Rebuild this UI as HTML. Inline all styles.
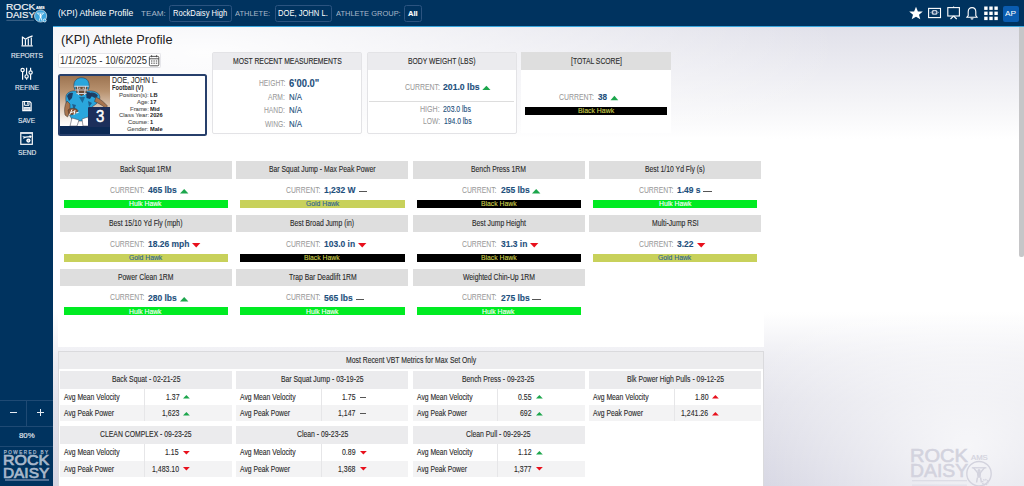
<!DOCTYPE html>
<html><head><meta charset="utf-8"><title>(KPI) Athlete Profile</title>
<style>
html,body{margin:0;padding:0;width:1024px;height:486px;overflow:hidden;background:#fff;}
body{position:relative;font-family:"Liberation Sans",sans-serif;}
span{position:absolute;white-space:pre;line-height:normal;transform-origin:0 0;display:block;-webkit-text-stroke-width:0.12px;}
div{box-sizing:border-box;}
</style></head><body>
<div style="position:absolute;left:53px;top:27px;width:971px;height:459px;background:radial-gradient(ellipse 640px 150px at 150px 25px,rgba(255,255,255,0.92),rgba(255,255,255,0)),radial-gradient(ellipse 230px 190px at 915px 420px,rgba(255,255,255,0.75),rgba(255,255,255,0)),linear-gradient(to bottom,#e1e1ea 0px,#ebebf1 40px,#f7f7f9 85px,#ffffff 112px,#ffffff 285px,#eeeef3 330px,#e3e3eb 375px,#d5d5e2 459px);"></div>
<div style="position:absolute;left:57.50px;top:137.00px;width:706.00px;height:210.00px;background:#fff;"></div>
<div style="position:absolute;left:57.50px;top:351.00px;width:706.50px;height:140.00px;background:#fff;border:1px solid #dadadd;"></div>
<div style="position:absolute;left:58.50px;top:352.00px;width:704.50px;height:16.50px;background:#ececee;"></div>
<div style="position:absolute;left:0.00px;top:0.00px;width:1024.00px;height:26.00px;background:#00335f;"></div>
<div style="position:absolute;left:53.00px;top:26.00px;width:971.00px;height:1.10px;background:#3aa6dd;"></div>
<div style="position:absolute;left:0.00px;top:25.00px;width:53.00px;height:461.00px;background:#00335f;"></div>
<div style="position:absolute;left:1019.00px;top:27.00px;width:4.50px;height:230.00px;background:#c6c6c8;border-radius:0 0 2px 2px;"></div>
<span style="left:58.17px;top:8.20px;font-size:9.3px;font-weight:400;color:#ffffff;transform:scaleX(0.9269);-webkit-text-stroke-width:0;">(KPI) Athlete Profile</span>
<span style="left:141.32px;top:9.61px;font-size:7.0px;font-weight:400;color:#a9b8c9;transform:scaleX(1.1605);-webkit-text-stroke-width:0;">TEAM:</span>
<div style="position:absolute;left:169.40px;top:4.80px;width:62.20px;height:17.10px;border:1px solid #2c5480;border-radius:2.5px;"></div>
<span style="left:173.37px;top:9.02px;font-size:8.2px;font-weight:400;color:#ffffff;transform:scaleX(0.9313);-webkit-text-stroke-width:0;">RockDaisy High</span>
<span style="left:235.49px;top:9.61px;font-size:7.0px;font-weight:400;color:#a9b8c9;transform:scaleX(1.0688);-webkit-text-stroke-width:0;">ATHLETE:</span>
<div style="position:absolute;left:274.50px;top:4.80px;width:57.30px;height:17.10px;border:1px solid #2c5480;border-radius:2.5px;"></div>
<span style="left:278.18px;top:9.02px;font-size:8.2px;font-weight:400;color:#ffffff;transform:scaleX(0.9266);-webkit-text-stroke-width:0;">DOE, JOHN L.</span>
<span style="left:335.99px;top:9.61px;font-size:7.0px;font-weight:400;color:#a9b8c9;transform:scaleX(1.0686);-webkit-text-stroke-width:0;">ATHLETE GROUP:</span>
<div style="position:absolute;left:404.20px;top:4.60px;width:17.70px;height:17.20px;border:1px solid #2c5480;border-radius:2.5px;"></div>
<span style="left:408.11px;top:8.81px;font-size:7.6px;font-weight:700;color:#ffffff;transform:scaleX(0.9905);">All</span>
<div style="position:absolute;left:1002.70px;top:5.80px;width:16.00px;height:16.00px;background:#0a5cb0;border-radius:2px;"></div>
<span style="left:1005.18px;top:9.31px;font-size:7.6px;font-weight:400;color:#ffffff;transform:scaleX(1.0902);-webkit-text-stroke-width:0;">AP</span>
<svg style="position:absolute;left:0;top:0" width="1024" height="27">
<g fill="#fff">
<polygon points="916,6.7 917.9,11.4 922.8,11.6 919.0,14.7 920.3,19.3 916,16.7 911.7,19.3 913.0,14.7 909.2,11.6 914.1,11.4"/>
</g>
<g fill="none" stroke="#fff" stroke-width="1.1">
<rect x="928.6" y="8.4" width="11.9" height="9.2"/>
<rect x="947.8" y="7.6" width="11.6" height="8.4"/>
<line x1="953.6" y1="6.6" x2="953.6" y2="7.6"/>
<line x1="953.6" y1="16" x2="950.5" y2="19"/>
<line x1="953.6" y1="16" x2="956.7" y2="19"/>
<path d="M967,17.2 L968.2,15.6 L968.2,11.8 C968.2,9.2 969.8,7.6 972,7.6 C974.2,7.6 975.8,9.2 975.8,11.8 L975.8,15.6 L977,17.2 Z"/>
<path d="M970.8,18.3 Q972,19.8 973.2,18.3"/>
</g>
<rect x="931.8" y="9.9" width="5.6" height="4.9" rx="1.6" fill="#c9d3df"/>
<circle cx="934.6" cy="12.3" r="1.5" fill="#31507a"/>
<path d="M930.3,12.4 L931.4,11.6 L931.4,13.2 Z M938.9,12.4 L937.8,11.6 L937.8,13.2 Z" fill="#c9d3df"/>
<g fill="#fff">
<rect x="984.2" y="6.5" width="3.4" height="3.4"/><rect x="989.3" y="6.5" width="3.4" height="3.4"/><rect x="994.4" y="6.5" width="3.4" height="3.4"/>
<rect x="984.2" y="11.6" width="3.4" height="3.4"/><rect x="989.3" y="11.6" width="3.4" height="3.4"/><rect x="994.4" y="11.6" width="3.4" height="3.4"/>
<rect x="984.2" y="16.7" width="3.4" height="3.4"/><rect x="989.3" y="16.7" width="3.4" height="3.4"/><rect x="994.4" y="16.7" width="3.4" height="3.4"/>
</g>
</svg>
<span style="left:5.57px;top:1.27px;font-size:9.5px;font-weight:400;color:#f2f4f7;transform:scaleX(1.0692);-webkit-text-stroke:0.2px #f2f4f7;">ROCK</span>
<span style="left:5.61px;top:8.97px;font-size:9.5px;font-weight:400;color:#f2f4f7;transform:scaleX(1.0101);-webkit-text-stroke:0.2px #f2f4f7;">DAISY</span>
<span style="left:36.30px;top:5.77px;font-size:3.4px;font-weight:700;color:#ffffff;transform:scaleX(1.1311);">AMS</span>
<svg style="position:absolute;left:0;top:0" width="53" height="27">
<circle cx="40.6" cy="16" r="6.1" fill="#3ea6df" stroke="#fff" stroke-width="0.6"/>
<path d="M36.9,13.1 L44.3,13.1" stroke="#e9f5fc" stroke-width="0.7" fill="none"/>
<path d="M37.7,13.2 L39.9,15.6 L41.3,15.6 L43.5,13.2" stroke="#ffffff" stroke-width="0.8" fill="none"/>
<circle cx="40.6" cy="14.6" r="0.8" fill="#fff"/>
<path d="M39.6,15.5 L41.6,15.5 L41.3,18.3 L39.9,18.3 Z" fill="#fff"/>
<path d="M39.9,18.2 L39.4,20.6 M41.3,18.2 L41.8,20.6" stroke="#fff" stroke-width="0.8" fill="none"/>
<circle cx="44.7" cy="20.5" r="1.5" fill="#3ea6df" stroke="#fff" stroke-width="0.7"/>
<rect x="6.4" y="19.9" width="27.5" height="0.6" fill="#6f89a8"/>
</svg>
<span style="left:10.66px;top:50.92px;font-size:7.9px;font-weight:400;color:#e8edf3;transform:scaleX(0.8370);">REPORTS</span>
<span style="left:14.56px;top:83.22px;font-size:7.9px;font-weight:400;color:#e8edf3;transform:scaleX(0.8327);">REFINE</span>
<span style="left:18.10px;top:116.22px;font-size:7.9px;font-weight:400;color:#e8edf3;transform:scaleX(0.8387);">SAVE</span>
<span style="left:17.70px;top:148.42px;font-size:7.9px;font-weight:400;color:#e8edf3;transform:scaleX(0.8344);">SEND</span>
<svg style="position:absolute;left:0;top:0" width="53" height="160">
<!-- reports -->
<g fill="none" stroke="#ffffff" stroke-width="1.15">
<path d="M21.4,45.9 L32.8,45.9"/>
<path d="M22.4,45.5 L22.4,36.6 M22.4,37 L25.5,39.2 L28.2,37.6 L32.6,35.9"/>
<path d="M25.4,45.5 L25.4,40 M28.3,45.5 L28.3,38.5 M31.3,45.5 L31.3,37.5"/>
</g>
<!-- refine -->
<g fill="none" stroke="#ffffff" stroke-width="1.2">
<path d="M22.6,71.8 L22.6,79.7 M26.6,67.8 L26.6,74.6 M26.6,78.2 L26.6,79.7 M30.6,67.8 L30.6,70.7 M30.6,74.3 L30.6,79.7"/>
<circle cx="22.6" cy="70.1" r="1.65"/><circle cx="26.6" cy="76.4" r="1.65"/><circle cx="30.6" cy="72.5" r="1.65"/>
</g>
<!-- save -->
<path d="M22.8,101.5 L29.8,101.5 L31.1,102.9 L31.1,110.6 L22.8,110.6 Z" fill="none" stroke="#ffffff" stroke-width="1.2"/>
<path d="M24.6,101.6 L24.6,105.3 L29,105.3 L29,101.6" fill="none" stroke="#ffffff" stroke-width="1"/>
<rect x="27.2" y="102.2" width="1" height="2.2" fill="#ffffff"/>
<rect x="23.4" y="107" width="7.1" height="3.3" fill="#e9eef4"/>
<rect x="24.4" y="108.2" width="5" height="0.45" fill="#9fb0c4"/>
<rect x="24.4" y="109.1" width="5" height="0.45" fill="#9fb0c4"/>
<!-- send -->
<rect x="20.8" y="132.7" width="11.5" height="11.6" fill="none" stroke="#ffffff" stroke-width="1.2"/>
<rect x="20.8" y="132.4" width="11.5" height="1.6" fill="#cfd9e4"/>
<path d="M23.2,138.2 C24.5,137.5 26,136.8 28,136.9 L30.5,136.6" fill="none" stroke="#ffffff" stroke-width="1.3"/>
<path d="M29.6,135 L31.9,136.6 L29.8,138.4 Z" fill="#ffffff"/>
<rect x="22.6" y="136" width="2.2" height="0.8" fill="#cfd9e4"/>
<circle cx="28.4" cy="140.6" r="2.1" fill="#ffffff"/>
<circle cx="28.4" cy="140.6" r="0.8" fill="#9fb0c4"/>
</svg>
<div style="position:absolute;left:0.00px;top:399.50px;width:53.00px;height:1.00px;background:#1f4a74;"></div>
<div style="position:absolute;left:26.00px;top:400.00px;width:1.00px;height:25.50px;background:#1f4a74;"></div>
<div style="position:absolute;left:0.00px;top:425.50px;width:53.00px;height:1.00px;background:#1f4a74;"></div>
<div style="position:absolute;left:0.00px;top:445.50px;width:53.00px;height:1.00px;background:#1f4a74;"></div>
<div style="position:absolute;left:9.90px;top:412.20px;width:6.90px;height:1.30px;background:#e8edf3;"></div>
<div style="position:absolute;left:36.50px;top:412.20px;width:7.30px;height:1.30px;background:#e8edf3;"></div>
<div style="position:absolute;left:39.50px;top:409.00px;width:1.30px;height:7.30px;background:#e8edf3;"></div>
<span style="left:18.66px;top:431.48px;font-size:7.2px;font-weight:400;color:#e8edf3;transform:scaleX(1.0837);">80%</span>
<span style="left:3.82px;top:449.78px;font-size:4.6px;font-weight:400;color:#9fb2c8;transform:scaleX(1.0000);letter-spacing:1.45px;-webkit-text-stroke-width:0.25px;">POWERED BY</span>
<span style="left:2.89px;top:452.30px;font-size:14.4px;font-weight:400;color:#a8b8cb;transform:scaleX(1.1078);-webkit-text-stroke-width:0.7px;">ROCK</span>
<span style="left:2.94px;top:464.60px;font-size:14.4px;font-weight:400;color:#a8b8cb;transform:scaleX(1.0691);-webkit-text-stroke-width:0.7px;">DAISY</span>
<div style="position:absolute;left:4.50px;top:479.30px;width:44.00px;height:1.40px;background:#4f6e93;"></div>
<span style="left:61.21px;top:32.00px;font-size:12.8px;font-weight:400;color:#222222;transform:scaleX(0.9988);-webkit-text-stroke-width:0;">(KPI) Athlete Profile</span>
<div style="position:absolute;left:57.80px;top:52.80px;width:103.45px;height:15.60px;background:#fff;border:1px solid #e6e6ea;border-bottom-color:#dcdce0;border-radius:2px;"></div>
<span style="left:59.88px;top:53.88px;font-size:11.0px;font-weight:400;color:#2a2a2a;transform:scaleX(0.8580);-webkit-text-stroke-width:0;">1/1/2025 - 10/6/2025</span>
<svg style="position:absolute;left:148px;top:54px" width="13" height="14">
<g fill="none" stroke="#444" stroke-width="0.9">
<rect x="1.4" y="2.4" width="9.4" height="9.4" rx="1"/>
<line x1="1.4" y1="4.8" x2="10.8" y2="4.8"/>
<line x1="3.6" y1="1.2" x2="3.6" y2="3.2"/><line x1="8.6" y1="1.2" x2="8.6" y2="3.2"/>
</g>
<g fill="#666"><rect x="3" y="6.4" width="1.4" height="1.2"/><rect x="5.4" y="6.4" width="1.4" height="1.2"/><rect x="7.8" y="6.4" width="1.4" height="1.2"/>
<rect x="3" y="8.6" width="1.4" height="1.2"/><rect x="5.4" y="8.6" width="1.4" height="1.2"/><rect x="7.8" y="8.6" width="1.4" height="1.2"/></g>
</svg>
<div style="position:absolute;left:57.80px;top:73.70px;width:149.20px;height:62.10px;background:#fff;border:2px solid #273f6b;border-radius:2.5px;"></div>
<div style="position:absolute;left:59.50px;top:75.50px;width:50.70px;height:51.00px;background:linear-gradient(to bottom,#9d7451 0%,#b8926f 30%,#dcc7b4 60%,#f7f2ee 85%,#ffffff 100%);"></div>
<div style="position:absolute;left:59.50px;top:126.20px;width:50.70px;height:8.00px;background:#0c2a55;"></div>
<svg style="position:absolute;left:58px;top:74px" width="53" height="53">
<!-- jersey body -->
<path d="M8,22 C9,18 14,16.5 18,17 L30,17 C35,16.5 40,18 41.5,21.5 C42.5,24.5 41,28 38,30 L34,33 L31,43 L26,47 L15,47 L12,42 L10,35 C8,31 7.5,26 8,22 Z" fill="#2aa6dc" stroke="#1b2f4f" stroke-width="0.5"/>
<!-- dark shading -->
<path d="M9,22 C10,19 13,18 15,19 L14,24 L11,27 Z" fill="#1c3f66"/>
<path d="M33,18.5 C36,18 39,19.5 40,22 L37,24 L33,22 Z" fill="#1c3f66"/>
<path d="M28,18 C31,17.5 34,18.5 34.5,21 L32,25 L28.5,24 Z" fill="#1d3a60"/>
<path d="M21,23 L27,23 L24.5,29 Z" fill="#1c6c9c"/>
<path d="M14,30 L18,31 L16,36 Z M30,27 L34,29 L31,33 Z" fill="#1f5e8c"/>
<!-- right arm skin -->
<path d="M38,23 C42,25 46,28 49.5,32 L47.5,34 C44,31 40,29 36.5,27.5 Z" fill="#a7744f" stroke="#2a2a2a" stroke-width="0.45"/>
<!-- left arm skin -->
<path d="M9,27 C6.5,31 6,36 7,41 L9.5,43 L12,38 L12,30 Z" fill="#a7744f" stroke="#2a2a2a" stroke-width="0.45"/>
<!-- football -->
<path d="M10,36 C13,33.5 18,33.5 20,36.5 C19,40 14,41.5 11,40.5 Z" fill="#8b5232" stroke="#2a2a2a" stroke-width="0.45"/>
<!-- glove / logo -->
<path d="M11.5,41 L14,35.5 M13,38.5 L16.5,37.5 M17,36 L16,41 M17.5,39 L20.5,38.5" stroke="#ffffff" stroke-width="1" fill="none"/>
<!-- pants -->
<path d="M14,44 L21,46 L19,52 L12,52 Z M24,45 L30,43 L32,52 L25,52 Z" fill="#ffffff" stroke="#3a3a4a" stroke-width="0.5"/>
<!-- helmet -->
<path d="M16,13 C15,6 20,3.5 24,3.8 C29,4 32,7.5 31,14 L30,16 L17,16 Z" fill="#2aa6dc" stroke="#1b2f4f" stroke-width="0.5"/>
<!-- face -->
<path d="M17.5,12.5 L29.5,12.5 L28.5,19 L23.5,22 L18.5,19 Z" fill="#6d4a33"/>
<!-- face mask -->
<path d="M16.2,12.2 L30.8,12.2 M17,16 L30,16 M18.5,19.5 L28.5,19.5 M19.5,12.2 L20.5,21 M27.5,12.2 L26.5,21" stroke="#d4d4da" stroke-width="1.1" fill="none"/>
<circle cx="21.8" cy="14.2" r="0.6" fill="#fff"/><circle cx="25.2" cy="14.2" r="0.6" fill="#fff"/>
</svg>
<div style="position:absolute;left:87.80px;top:106.50px;width:22.40px;height:20.00px;background:#1c2f5b;border-radius:1px 0 0 0;"></div>
<span style="left:95.53px;top:107.27px;font-size:16.2px;font-weight:400;color:#ffffff;transform:scaleX(0.9242);-webkit-text-stroke:0.45px #fff;">3</span>
<span style="left:111.73px;top:75.46px;font-size:8.3px;font-weight:400;color:#2a2a2a;transform:scaleX(0.8399);-webkit-text-stroke-width:0.1px;">DOE, JOHN L.</span>
<span style="left:111.92px;top:84.20px;font-size:6.4px;font-weight:700;color:#2a2a2a;transform:scaleX(0.8912);-webkit-text-stroke-width:0;">Football (V)</span>
<span style="left:118.97px;top:91.13px;font-size:6.2px;font-weight:400;color:#555555;transform:scaleX(0.9600);-webkit-text-stroke-width:0.1px;">Position(s):</span>
<span style="left:149.72px;top:91.13px;font-size:6.2px;font-weight:700;color:#222222;transform:scaleX(0.9150);-webkit-text-stroke-width:0;">LB</span>
<span style="left:136.50px;top:98.13px;font-size:6.2px;font-weight:400;color:#555555;transform:scaleX(0.9600);-webkit-text-stroke-width:0.1px;">Age:</span>
<span style="left:149.74px;top:98.13px;font-size:6.2px;font-weight:700;color:#222222;transform:scaleX(0.9150);-webkit-text-stroke-width:0;">17</span>
<span style="left:129.89px;top:104.73px;font-size:6.2px;font-weight:400;color:#555555;transform:scaleX(0.9600);-webkit-text-stroke-width:0.1px;">Frame:</span>
<span style="left:149.72px;top:104.73px;font-size:6.2px;font-weight:700;color:#222222;transform:scaleX(0.9150);-webkit-text-stroke-width:0;">Mid</span>
<span style="left:118.63px;top:111.43px;font-size:6.2px;font-weight:400;color:#555555;transform:scaleX(0.9600);-webkit-text-stroke-width:0.1px;">Class Year:</span>
<span style="left:149.90px;top:111.43px;font-size:6.2px;font-weight:700;color:#222222;transform:scaleX(0.9150);-webkit-text-stroke-width:0;">2026</span>
<span style="left:127.90px;top:118.13px;font-size:6.2px;font-weight:400;color:#555555;transform:scaleX(0.9600);-webkit-text-stroke-width:0.1px;">Course:</span>
<span style="left:149.74px;top:118.13px;font-size:6.2px;font-weight:700;color:#222222;transform:scaleX(0.9150);-webkit-text-stroke-width:0;">1</span>
<span style="left:127.24px;top:125.13px;font-size:6.2px;font-weight:400;color:#555555;transform:scaleX(0.9600);-webkit-text-stroke-width:0.1px;">Gender:</span>
<span style="left:149.72px;top:125.13px;font-size:6.2px;font-weight:700;color:#222222;transform:scaleX(0.9150);-webkit-text-stroke-width:0;">Male</span>
<div style="position:absolute;left:212.00px;top:52.00px;width:150.00px;height:82.00px;background:#fff;border:1px solid #e3e3e6;border-radius:2px;"></div>
<div style="position:absolute;left:213.00px;top:53.00px;width:148.00px;height:17.00px;background:#ebebee;"></div>
<span style="left:232.51px;top:55.93px;font-size:8.8px;font-weight:400;color:#2a2a2a;transform:scaleX(0.7740);">MOST RECENT MEASUREMENTS</span>
<span style="left:258.70px;top:78.19px;font-size:8.4px;font-weight:400;color:#999999;transform:scaleX(0.8000);-webkit-text-stroke-width:0.05px;">HEIGHT:</span>
<span style="left:289.46px;top:77.05px;font-size:11.2px;font-weight:700;color:#1d4f7c;transform:scaleX(0.8407);">6'00.0"</span>
<span style="left:268.41px;top:92.49px;font-size:8.4px;font-weight:400;color:#999999;transform:scaleX(0.8000);-webkit-text-stroke-width:0.05px;">ARM:</span>
<span style="left:289.06px;top:92.46px;font-size:8.3px;font-weight:400;color:#1d4f7c;transform:scaleX(0.9399);">N/A</span>
<span style="left:264.30px;top:105.49px;font-size:8.4px;font-weight:400;color:#999999;transform:scaleX(0.8000);-webkit-text-stroke-width:0.05px;">HAND:</span>
<span style="left:289.06px;top:105.46px;font-size:8.3px;font-weight:400;color:#1d4f7c;transform:scaleX(0.9399);">N/A</span>
<span style="left:265.06px;top:118.59px;font-size:8.4px;font-weight:400;color:#999999;transform:scaleX(0.8000);-webkit-text-stroke-width:0.05px;">WING:</span>
<span style="left:289.06px;top:118.56px;font-size:8.3px;font-weight:400;color:#1d4f7c;transform:scaleX(0.9399);">N/A</span>
<div style="position:absolute;left:366.50px;top:52.00px;width:150.50px;height:82.00px;background:#fff;border:1px solid #e3e3e6;border-radius:2px;"></div>
<div style="position:absolute;left:367.50px;top:53.00px;width:148.50px;height:17.00px;background:#ebebee;"></div>
<span style="left:407.93px;top:55.93px;font-size:8.8px;font-weight:400;color:#2a2a2a;transform:scaleX(0.7740);">BODY WEIGHT (LBS)</span>
<span style="left:404.75px;top:81.98px;font-size:8.66px;font-weight:400;color:#999999;transform:scaleX(0.7990);-webkit-text-stroke-width:0.05px;">CURRENT:</span>
<span style="left:443.40px;top:81.20px;font-size:9.6px;font-weight:700;color:#1d4f7c;transform:scaleX(0.9037);">201.0 lbs</span>
<svg style="position:absolute;left:482px;top:85px" width="9" height="6"><polygon points="0.3,5.1 4.4,0.7 8.5,5.1" fill="#1ca64c"/></svg>
<div style="position:absolute;left:369.00px;top:100.70px;width:145.00px;height:1.00px;background:#dddddd;"></div>
<span style="left:420.02px;top:103.89px;font-size:8.4px;font-weight:400;color:#999999;transform:scaleX(0.8456);-webkit-text-stroke-width:0.05px;">HIGH:</span>
<span style="left:443.35px;top:104.82px;font-size:8.2px;font-weight:400;color:#1d4f7c;transform:scaleX(0.8381);">203.0 lbs</span>
<span style="left:422.66px;top:115.79px;font-size:8.4px;font-weight:400;color:#999999;transform:scaleX(0.8000);-webkit-text-stroke-width:0.05px;">LOW:</span>
<span style="left:443.68px;top:116.72px;font-size:8.2px;font-weight:400;color:#1d4f7c;transform:scaleX(0.8282);">194.0 lbs</span>
<div style="position:absolute;left:521.00px;top:52.00px;width:150.00px;height:81.30px;background:#fff;"></div>
<div style="position:absolute;left:521.00px;top:52.00px;width:150.00px;height:17.60px;background:#dedede;"></div>
<span style="left:570.52px;top:55.93px;font-size:8.8px;font-weight:400;color:#2a2a2a;transform:scaleX(0.7740);">[TOTAL SCORE]</span>
<span style="left:559.35px;top:91.96px;font-size:8.6px;font-weight:400;color:#999999;transform:scaleX(0.8046);-webkit-text-stroke-width:0.05px;">CURRENT:</span>
<span style="left:598.21px;top:91.20px;font-size:9.6px;font-weight:700;color:#1d4f7c;transform:scaleX(0.8462);">38</span>
<svg style="position:absolute;left:610px;top:95px" width="9" height="6"><polygon points="0.5,5.3 4.4,0.8 8.3,5.3" fill="#1ca64c"/></svg>
<div style="position:absolute;left:525.20px;top:106.75px;width:141.70px;height:7.85px;background:#000;"></div>
<span style="left:577.83px;top:106.05px;font-size:7.4px;font-weight:400;color:#cdd14e;transform:scaleX(0.9354);">Black Hawk</span>
<div style="position:absolute;left:59.80px;top:161.00px;width:172.30px;height:17.50px;background:#dedede;"></div>
<span style="left:120.36px;top:163.95px;font-size:9.0px;font-weight:400;color:#2a2a2a;transform:scaleX(0.7580);">Back Squat 1RM</span>
<span style="left:109.61px;top:184.67px;font-size:8.5px;font-weight:400;color:#999999;transform:scaleX(0.8020);-webkit-text-stroke-width:0.05px;">CURRENT:</span>
<span style="left:148.02px;top:184.09px;font-size:9.55px;font-weight:700;color:#1d4f7c;transform:scaleX(0.8870);">465 lbs</span>
<svg style="position:absolute;left:179.80px;top:188.80px;overflow:visible" width="8.40" height="4.40"><polygon points="0,4.4 4.20,0 8.40,4.4" fill="#1ca64c"/></svg>
<div style="position:absolute;left:63.70px;top:199.76px;width:164.50px;height:8.04px;background:#00eb22;"></div>
<span style="left:129.38px;top:199.45px;font-size:7.7px;font-weight:400;color:#ffffff;transform:scaleX(0.8850);">Hulk Hawk</span>
<div style="position:absolute;left:236.20px;top:161.00px;width:172.30px;height:17.50px;background:#dedede;"></div>
<span style="left:268.85px;top:163.95px;font-size:9.0px;font-weight:400;color:#2a2a2a;transform:scaleX(0.7580);">Bar Squat Jump - Max Peak Power</span>
<span style="left:286.01px;top:184.67px;font-size:8.5px;font-weight:400;color:#999999;transform:scaleX(0.8020);-webkit-text-stroke-width:0.05px;">CURRENT:</span>
<span style="left:324.02px;top:184.09px;font-size:9.55px;font-weight:700;color:#1d4f7c;transform:scaleX(0.8870);">1,232 W</span>
<div style="position:absolute;left:358.96px;top:190.80px;width:8.40px;height:0.90px;background:#555555;"></div>
<div style="position:absolute;left:240.10px;top:199.76px;width:164.50px;height:8.04px;background:#c8d15b;"></div>
<span style="left:305.51px;top:199.45px;font-size:7.7px;font-weight:400;color:#2a6494;transform:scaleX(0.8850);">Gold Hawk</span>
<div style="position:absolute;left:412.60px;top:161.00px;width:172.30px;height:17.50px;background:#dedede;"></div>
<span style="left:471.26px;top:163.95px;font-size:9.0px;font-weight:400;color:#2a2a2a;transform:scaleX(0.7580);">Bench Press 1RM</span>
<span style="left:462.41px;top:184.67px;font-size:8.5px;font-weight:400;color:#999999;transform:scaleX(0.8020);-webkit-text-stroke-width:0.05px;">CURRENT:</span>
<span style="left:500.66px;top:184.09px;font-size:9.55px;font-weight:700;color:#1d4f7c;transform:scaleX(0.8870);">255 lbs</span>
<svg style="position:absolute;left:532.44px;top:188.80px;overflow:visible" width="8.40" height="4.40"><polygon points="0,4.4 4.20,0 8.40,4.4" fill="#1ca64c"/></svg>
<div style="position:absolute;left:416.50px;top:199.76px;width:164.50px;height:8.04px;background:#000000;"></div>
<span style="left:480.67px;top:199.45px;font-size:7.7px;font-weight:400;color:#cdd14e;transform:scaleX(0.8850);">Black Hawk</span>
<div style="position:absolute;left:589.00px;top:161.00px;width:172.30px;height:17.50px;background:#dedede;"></div>
<span style="left:645.19px;top:163.95px;font-size:9.0px;font-weight:400;color:#2a2a2a;transform:scaleX(0.7580);">Best 1/10 Yd Fly (s)</span>
<span style="left:638.81px;top:184.67px;font-size:8.5px;font-weight:400;color:#999999;transform:scaleX(0.8020);-webkit-text-stroke-width:0.05px;">CURRENT:</span>
<span style="left:676.82px;top:184.09px;font-size:9.55px;font-weight:700;color:#1d4f7c;transform:scaleX(0.8870);">1.49 s</span>
<div style="position:absolute;left:703.42px;top:190.80px;width:8.40px;height:0.90px;background:#555555;"></div>
<div style="position:absolute;left:592.90px;top:199.76px;width:164.50px;height:8.04px;background:#00eb22;"></div>
<span style="left:658.58px;top:199.45px;font-size:7.7px;font-weight:400;color:#ffffff;transform:scaleX(0.8850);">Hulk Hawk</span>
<div style="position:absolute;left:59.80px;top:214.85px;width:172.30px;height:17.50px;background:#dedede;"></div>
<span style="left:109.16px;top:217.80px;font-size:9.0px;font-weight:400;color:#2a2a2a;transform:scaleX(0.7580);">Best 15/10 Yd Fly (mph)</span>
<span style="left:109.61px;top:238.52px;font-size:8.5px;font-weight:400;color:#999999;transform:scaleX(0.8020);-webkit-text-stroke-width:0.05px;">CURRENT:</span>
<span style="left:147.62px;top:237.94px;font-size:9.55px;font-weight:700;color:#1d4f7c;transform:scaleX(0.8870);">18.26 mph</span>
<svg style="position:absolute;left:191.92px;top:242.65px;overflow:visible" width="8.40" height="4.40"><polygon points="0,0 4.20,4.4 8.40,0" fill="#e8101c"/></svg>
<div style="position:absolute;left:63.70px;top:253.61px;width:164.50px;height:8.04px;background:#c8d15b;"></div>
<span style="left:129.11px;top:253.30px;font-size:7.7px;font-weight:400;color:#2a6494;transform:scaleX(0.8850);">Gold Hawk</span>
<div style="position:absolute;left:236.20px;top:214.85px;width:172.30px;height:17.50px;background:#dedede;"></div>
<span style="left:290.24px;top:217.80px;font-size:9.0px;font-weight:400;color:#2a2a2a;transform:scaleX(0.7580);">Best Broad Jump (in)</span>
<span style="left:286.01px;top:238.52px;font-size:8.5px;font-weight:400;color:#999999;transform:scaleX(0.8020);-webkit-text-stroke-width:0.05px;">CURRENT:</span>
<span style="left:324.02px;top:237.94px;font-size:9.55px;font-weight:700;color:#1d4f7c;transform:scaleX(0.8870);">103.0 in</span>
<svg style="position:absolute;left:357.97px;top:242.65px;overflow:visible" width="8.40" height="4.40"><polygon points="0,0 4.20,4.4 8.40,0" fill="#e8101c"/></svg>
<div style="position:absolute;left:240.10px;top:253.61px;width:164.50px;height:8.04px;background:#000000;"></div>
<span style="left:304.27px;top:253.30px;font-size:7.7px;font-weight:400;color:#cdd14e;transform:scaleX(0.8850);">Black Hawk</span>
<div style="position:absolute;left:412.60px;top:214.85px;width:172.30px;height:17.50px;background:#dedede;"></div>
<span style="left:471.57px;top:217.80px;font-size:9.0px;font-weight:400;color:#2a2a2a;transform:scaleX(0.7580);">Best Jump Height</span>
<span style="left:462.41px;top:238.52px;font-size:8.5px;font-weight:400;color:#999999;transform:scaleX(0.8020);-webkit-text-stroke-width:0.05px;">CURRENT:</span>
<span style="left:500.76px;top:237.94px;font-size:9.55px;font-weight:700;color:#1d4f7c;transform:scaleX(0.8870);">31.3 in</span>
<svg style="position:absolute;left:530.00px;top:242.65px;overflow:visible" width="8.40" height="4.40"><polygon points="0,0 4.20,4.4 8.40,0" fill="#e8101c"/></svg>
<div style="position:absolute;left:416.50px;top:253.61px;width:164.50px;height:8.04px;background:#000000;"></div>
<span style="left:480.67px;top:253.30px;font-size:7.7px;font-weight:400;color:#cdd14e;transform:scaleX(0.8850);">Black Hawk</span>
<div style="position:absolute;left:589.00px;top:214.85px;width:172.30px;height:17.50px;background:#dedede;"></div>
<span style="left:651.87px;top:217.80px;font-size:9.0px;font-weight:400;color:#2a2a2a;transform:scaleX(0.7580);">Multi-Jump RSI</span>
<span style="left:638.81px;top:238.52px;font-size:8.5px;font-weight:400;color:#999999;transform:scaleX(0.8020);-webkit-text-stroke-width:0.05px;">CURRENT:</span>
<span style="left:677.16px;top:237.94px;font-size:9.55px;font-weight:700;color:#1d4f7c;transform:scaleX(0.8870);">3.22</span>
<svg style="position:absolute;left:696.70px;top:242.65px;overflow:visible" width="8.40" height="4.40"><polygon points="0,0 4.20,4.4 8.40,0" fill="#e8101c"/></svg>
<div style="position:absolute;left:592.90px;top:253.61px;width:164.50px;height:8.04px;background:#c8d15b;"></div>
<span style="left:658.31px;top:253.30px;font-size:7.7px;font-weight:400;color:#2a6494;transform:scaleX(0.8850);">Gold Hawk</span>
<div style="position:absolute;left:59.80px;top:268.70px;width:172.30px;height:17.50px;background:#dedede;"></div>
<span style="left:118.27px;top:271.65px;font-size:9.0px;font-weight:400;color:#2a2a2a;transform:scaleX(0.7580);">Power Clean 1RM</span>
<span style="left:109.61px;top:292.37px;font-size:8.5px;font-weight:400;color:#999999;transform:scaleX(0.8020);-webkit-text-stroke-width:0.05px;">CURRENT:</span>
<span style="left:147.86px;top:291.79px;font-size:9.55px;font-weight:700;color:#1d4f7c;transform:scaleX(0.8870);">280 lbs</span>
<svg style="position:absolute;left:179.64px;top:296.50px;overflow:visible" width="8.40" height="4.40"><polygon points="0,4.4 4.20,0 8.40,4.4" fill="#1ca64c"/></svg>
<div style="position:absolute;left:63.70px;top:307.46px;width:164.50px;height:8.04px;background:#00eb22;"></div>
<span style="left:129.38px;top:307.15px;font-size:7.7px;font-weight:400;color:#ffffff;transform:scaleX(0.8850);">Hulk Hawk</span>
<div style="position:absolute;left:236.20px;top:268.70px;width:172.30px;height:17.50px;background:#dedede;"></div>
<span style="left:288.75px;top:271.65px;font-size:9.0px;font-weight:400;color:#2a2a2a;transform:scaleX(0.7580);">Trap Bar Deadlift 1RM</span>
<span style="left:286.01px;top:292.37px;font-size:8.5px;font-weight:400;color:#999999;transform:scaleX(0.8020);-webkit-text-stroke-width:0.05px;">CURRENT:</span>
<span style="left:324.29px;top:291.79px;font-size:9.55px;font-weight:700;color:#1d4f7c;transform:scaleX(0.8870);">565 lbs</span>
<div style="position:absolute;left:356.07px;top:298.50px;width:8.40px;height:0.90px;background:#555555;"></div>
<div style="position:absolute;left:240.10px;top:307.46px;width:164.50px;height:8.04px;background:#00eb22;"></div>
<span style="left:305.78px;top:307.15px;font-size:7.7px;font-weight:400;color:#ffffff;transform:scaleX(0.8850);">Hulk Hawk</span>
<div style="position:absolute;left:412.60px;top:268.70px;width:172.30px;height:17.50px;background:#dedede;"></div>
<span style="left:463.06px;top:271.65px;font-size:9.0px;font-weight:400;color:#2a2a2a;transform:scaleX(0.7580);">Weighted Chin-Up 1RM</span>
<span style="left:462.41px;top:292.37px;font-size:8.5px;font-weight:400;color:#999999;transform:scaleX(0.8020);-webkit-text-stroke-width:0.05px;">CURRENT:</span>
<span style="left:500.66px;top:291.79px;font-size:9.55px;font-weight:700;color:#1d4f7c;transform:scaleX(0.8870);">275 lbs</span>
<div style="position:absolute;left:532.44px;top:298.50px;width:8.40px;height:0.90px;background:#555555;"></div>
<div style="position:absolute;left:416.50px;top:307.46px;width:164.50px;height:8.04px;background:#00eb22;"></div>
<span style="left:482.18px;top:307.15px;font-size:7.7px;font-weight:400;color:#ffffff;transform:scaleX(0.8850);">Hulk Hawk</span>
<span style="left:346.24px;top:354.50px;font-size:9.0px;font-weight:400;color:#2a2a2a;transform:scaleX(0.7590);">Most Recent VBT Metrics for Max Set Only</span>
<div style="position:absolute;left:59.80px;top:370.80px;width:172.30px;height:18.10px;background:#ebebed;"></div>
<span style="left:111.56px;top:373.83px;font-size:8.8px;font-weight:400;color:#2a2a2a;transform:scaleX(0.7780);">Back Squat - 02-21-25</span>
<div style="position:absolute;left:59.80px;top:388.90px;width:172.30px;height:16.30px;background:#ffffff;"></div>
<div style="position:absolute;left:59.80px;top:405.20px;width:172.30px;height:16.30px;background:#f3f3f4;"></div>
<div style="position:absolute;left:144.40px;top:388.90px;width:0.80px;height:32.60px;background:#e6e6e8;"></div>
<span style="left:63.99px;top:391.74px;font-size:8.7px;font-weight:400;color:#2a2a2a;transform:scaleX(0.7800);">Avg Mean Velocity</span>
<span style="left:165.50px;top:391.74px;font-size:8.7px;font-weight:400;color:#2a2a2a;transform:scaleX(0.8000);">1.37</span>
<svg style="position:absolute;left:183.20px;top:395.35px;overflow:visible" width="6.80" height="3.60"><polygon points="0,3.6 3.40,0 6.80,3.6" fill="#1ca64c"/></svg>
<span style="left:63.99px;top:408.14px;font-size:8.7px;font-weight:400;color:#2a2a2a;transform:scaleX(0.7800);">Avg Peak Power</span>
<span style="left:161.59px;top:408.14px;font-size:8.7px;font-weight:400;color:#2a2a2a;transform:scaleX(0.8000);">1,623</span>
<svg style="position:absolute;left:183.20px;top:411.75px;overflow:visible" width="6.80" height="3.60"><polygon points="0,3.6 3.40,0 6.80,3.6" fill="#1ca64c"/></svg>
<div style="position:absolute;left:236.20px;top:370.80px;width:172.30px;height:18.10px;background:#ebebed;"></div>
<span style="left:280.92px;top:373.83px;font-size:8.8px;font-weight:400;color:#2a2a2a;transform:scaleX(0.7780);">Bar Squat Jump - 03-19-25</span>
<div style="position:absolute;left:236.20px;top:388.90px;width:172.30px;height:16.30px;background:#ffffff;"></div>
<div style="position:absolute;left:236.20px;top:405.20px;width:172.30px;height:16.30px;background:#f3f3f4;"></div>
<div style="position:absolute;left:320.80px;top:388.90px;width:0.80px;height:32.60px;background:#e6e6e8;"></div>
<span style="left:240.39px;top:391.74px;font-size:8.7px;font-weight:400;color:#2a2a2a;transform:scaleX(0.7800);">Avg Mean Velocity</span>
<span style="left:341.85px;top:391.74px;font-size:8.7px;font-weight:400;color:#2a2a2a;transform:scaleX(0.8000);">1.75</span>
<div style="position:absolute;left:359.60px;top:396.95px;width:6.80px;height:0.90px;background:#555555;"></div>
<span style="left:240.39px;top:408.14px;font-size:8.7px;font-weight:400;color:#2a2a2a;transform:scaleX(0.7800);">Avg Peak Power</span>
<span style="left:338.03px;top:408.14px;font-size:8.7px;font-weight:400;color:#2a2a2a;transform:scaleX(0.8000);">1,147</span>
<div style="position:absolute;left:359.60px;top:413.35px;width:6.80px;height:0.90px;background:#555555;"></div>
<div style="position:absolute;left:412.60px;top:370.80px;width:172.30px;height:18.10px;background:#ebebed;"></div>
<span style="left:462.46px;top:373.83px;font-size:8.8px;font-weight:400;color:#2a2a2a;transform:scaleX(0.7780);">Bench Press - 09-23-25</span>
<div style="position:absolute;left:412.60px;top:388.90px;width:172.30px;height:16.30px;background:#ffffff;"></div>
<div style="position:absolute;left:412.60px;top:405.20px;width:172.30px;height:16.30px;background:#f3f3f4;"></div>
<div style="position:absolute;left:497.20px;top:388.90px;width:0.80px;height:32.60px;background:#e6e6e8;"></div>
<span style="left:416.79px;top:391.74px;font-size:8.7px;font-weight:400;color:#2a2a2a;transform:scaleX(0.7800);">Avg Mean Velocity</span>
<span style="left:518.25px;top:391.74px;font-size:8.7px;font-weight:400;color:#2a2a2a;transform:scaleX(0.8000);">0.55</span>
<svg style="position:absolute;left:536.00px;top:395.35px;overflow:visible" width="6.80" height="3.60"><polygon points="0,3.6 3.40,0 6.80,3.6" fill="#1ca64c"/></svg>
<span style="left:416.79px;top:408.14px;font-size:8.7px;font-weight:400;color:#2a2a2a;transform:scaleX(0.7800);">Avg Peak Power</span>
<span style="left:520.24px;top:408.14px;font-size:8.7px;font-weight:400;color:#2a2a2a;transform:scaleX(0.8000);">692</span>
<svg style="position:absolute;left:536.00px;top:411.75px;overflow:visible" width="6.80" height="3.60"><polygon points="0,3.6 3.40,0 6.80,3.6" fill="#1ca64c"/></svg>
<div style="position:absolute;left:589.00px;top:370.80px;width:172.30px;height:18.10px;background:#ebebed;"></div>
<span style="left:626.50px;top:373.83px;font-size:8.8px;font-weight:400;color:#2a2a2a;transform:scaleX(0.7780);">Blk Power High Pulls - 09-12-25</span>
<div style="position:absolute;left:589.00px;top:388.90px;width:172.30px;height:16.30px;background:#ffffff;"></div>
<div style="position:absolute;left:589.00px;top:405.20px;width:172.30px;height:16.30px;background:#f3f3f4;"></div>
<div style="position:absolute;left:673.60px;top:388.90px;width:0.80px;height:32.60px;background:#e6e6e8;"></div>
<span style="left:593.19px;top:391.74px;font-size:8.7px;font-weight:400;color:#2a2a2a;transform:scaleX(0.7800);">Avg Mean Velocity</span>
<span style="left:694.62px;top:391.74px;font-size:8.7px;font-weight:400;color:#2a2a2a;transform:scaleX(0.8000);">1.80</span>
<svg style="position:absolute;left:712.40px;top:395.35px;overflow:visible" width="6.80" height="3.60"><polygon points="0,3.6 3.40,0 6.80,3.6" fill="#e8101c"/></svg>
<span style="left:593.19px;top:408.14px;font-size:8.7px;font-weight:400;color:#2a2a2a;transform:scaleX(0.7800);">Avg Peak Power</span>
<span style="left:681.11px;top:408.14px;font-size:8.7px;font-weight:400;color:#2a2a2a;transform:scaleX(0.8000);">1,241.26</span>
<svg style="position:absolute;left:712.40px;top:411.75px;overflow:visible" width="6.80" height="3.60"><polygon points="0,3.6 3.40,0 6.80,3.6" fill="#e8101c"/></svg>
<div style="position:absolute;left:59.80px;top:426.25px;width:172.30px;height:18.10px;background:#ebebed;"></div>
<span style="left:100.07px;top:429.28px;font-size:8.8px;font-weight:400;color:#2a2a2a;transform:scaleX(0.7780);">CLEAN COMPLEX - 09-23-25</span>
<div style="position:absolute;left:59.80px;top:444.35px;width:172.30px;height:16.30px;background:#ffffff;"></div>
<div style="position:absolute;left:59.80px;top:460.65px;width:172.30px;height:16.30px;background:#f3f3f4;"></div>
<div style="position:absolute;left:144.40px;top:444.35px;width:0.80px;height:32.60px;background:#e6e6e8;"></div>
<span style="left:63.99px;top:447.19px;font-size:8.7px;font-weight:400;color:#2a2a2a;transform:scaleX(0.7800);">Avg Mean Velocity</span>
<span style="left:165.45px;top:447.19px;font-size:8.7px;font-weight:400;color:#2a2a2a;transform:scaleX(0.8000);">1.15</span>
<svg style="position:absolute;left:183.20px;top:450.80px;overflow:visible" width="6.80" height="3.60"><polygon points="0,0 3.40,3.6 6.80,0" fill="#e8101c"/></svg>
<span style="left:63.99px;top:463.59px;font-size:8.7px;font-weight:400;color:#2a2a2a;transform:scaleX(0.7800);">Avg Peak Power</span>
<span style="left:151.88px;top:463.59px;font-size:8.7px;font-weight:400;color:#2a2a2a;transform:scaleX(0.8000);">1,483.10</span>
<svg style="position:absolute;left:183.20px;top:467.20px;overflow:visible" width="6.80" height="3.60"><polygon points="0,0 3.40,3.6 6.80,0" fill="#e8101c"/></svg>
<div style="position:absolute;left:236.20px;top:426.25px;width:172.30px;height:18.10px;background:#ebebed;"></div>
<span style="left:296.63px;top:429.28px;font-size:8.8px;font-weight:400;color:#2a2a2a;transform:scaleX(0.7780);">Clean - 09-23-25</span>
<div style="position:absolute;left:236.20px;top:444.35px;width:172.30px;height:16.30px;background:#ffffff;"></div>
<div style="position:absolute;left:236.20px;top:460.65px;width:172.30px;height:16.30px;background:#f3f3f4;"></div>
<div style="position:absolute;left:320.80px;top:444.35px;width:0.80px;height:32.60px;background:#e6e6e8;"></div>
<span style="left:240.39px;top:447.19px;font-size:8.7px;font-weight:400;color:#2a2a2a;transform:scaleX(0.7800);">Avg Mean Velocity</span>
<span style="left:341.88px;top:447.19px;font-size:8.7px;font-weight:400;color:#2a2a2a;transform:scaleX(0.8000);">0.89</span>
<svg style="position:absolute;left:359.60px;top:450.80px;overflow:visible" width="6.80" height="3.60"><polygon points="0,0 3.40,3.6 6.80,0" fill="#e8101c"/></svg>
<span style="left:240.39px;top:463.59px;font-size:8.7px;font-weight:400;color:#2a2a2a;transform:scaleX(0.7800);">Avg Peak Power</span>
<span style="left:337.99px;top:463.59px;font-size:8.7px;font-weight:400;color:#2a2a2a;transform:scaleX(0.8000);">1,368</span>
<svg style="position:absolute;left:359.60px;top:467.20px;overflow:visible" width="6.80" height="3.60"><polygon points="0,0 3.40,3.6 6.80,0" fill="#e8101c"/></svg>
<div style="position:absolute;left:412.60px;top:426.25px;width:172.30px;height:18.10px;background:#ebebed;"></div>
<span style="left:466.37px;top:429.28px;font-size:8.8px;font-weight:400;color:#2a2a2a;transform:scaleX(0.7780);">Clean Pull - 09-29-25</span>
<div style="position:absolute;left:412.60px;top:444.35px;width:172.30px;height:16.30px;background:#ffffff;"></div>
<div style="position:absolute;left:412.60px;top:460.65px;width:172.30px;height:16.30px;background:#f3f3f4;"></div>
<div style="position:absolute;left:497.20px;top:444.35px;width:0.80px;height:32.60px;background:#e6e6e8;"></div>
<span style="left:416.79px;top:447.19px;font-size:8.7px;font-weight:400;color:#2a2a2a;transform:scaleX(0.7800);">Avg Mean Velocity</span>
<span style="left:518.30px;top:447.19px;font-size:8.7px;font-weight:400;color:#2a2a2a;transform:scaleX(0.8000);">1.12</span>
<svg style="position:absolute;left:536.00px;top:450.80px;overflow:visible" width="6.80" height="3.60"><polygon points="0,3.6 3.40,0 6.80,3.6" fill="#1ca64c"/></svg>
<span style="left:416.79px;top:463.59px;font-size:8.7px;font-weight:400;color:#2a2a2a;transform:scaleX(0.7800);">Avg Peak Power</span>
<span style="left:514.43px;top:463.59px;font-size:8.7px;font-weight:400;color:#2a2a2a;transform:scaleX(0.8000);">1,377</span>
<svg style="position:absolute;left:536.00px;top:467.20px;overflow:visible" width="6.80" height="3.60"><polygon points="0,0 3.40,3.6 6.80,0" fill="#e8101c"/></svg>
<span style="left:910.25px;top:444.90px;font-size:18.6px;font-weight:400;color:#d3d3de;transform:scaleX(1.0787);-webkit-text-stroke:0.6px #d3d3de;">ROCK</span>
<span style="left:910.31px;top:459.90px;font-size:18.6px;font-weight:400;color:#d3d3de;transform:scaleX(1.0411);-webkit-text-stroke:0.6px #d3d3de;">DAISY</span>
<span style="left:970.78px;top:452.68px;font-size:7.2px;font-weight:400;color:#d3d3de;transform:scaleX(1.0748);-webkit-text-stroke:0.2px #d3d3de;">AMS</span>
<svg style="position:absolute;left:900px;top:440px" width="124" height="46">
<circle cx="79" cy="33.7" r="12.2" fill="none" stroke="#d3d3de" stroke-width="1.4"/>
<path d="M71.8,27.8 L86.4,27.8" stroke="#d3d3de" stroke-width="1.3" fill="none"/>
<path d="M73.5,27.8 L77.5,32.5 L80.5,32.5 L84.5,27.8" stroke="#d3d3de" stroke-width="1.4" fill="none"/>
<circle cx="79" cy="30.6" r="1.5" fill="#d3d3de"/>
<path d="M76.8,32.3 L81.2,32.3 L80.6,37.8 L77.4,37.8 Z" fill="#d3d3de"/>
<path d="M77.4,37.5 L76.6,42.5 M80.6,37.5 L81.4,42.5" stroke="#d3d3de" stroke-width="1.5" fill="none"/>
<circle cx="85.2" cy="42.2" r="2.6" fill="none" stroke="#d3d3de" stroke-width="1.6" stroke-dasharray="1.2 0.8"/>
<rect x="12" y="40.2" width="55" height="1.1" fill="#d9d9e3"/>
<rect x="12" y="44.6" width="55" height="1.1" fill="#dfdfe8"/>
</svg>
</body></html>
